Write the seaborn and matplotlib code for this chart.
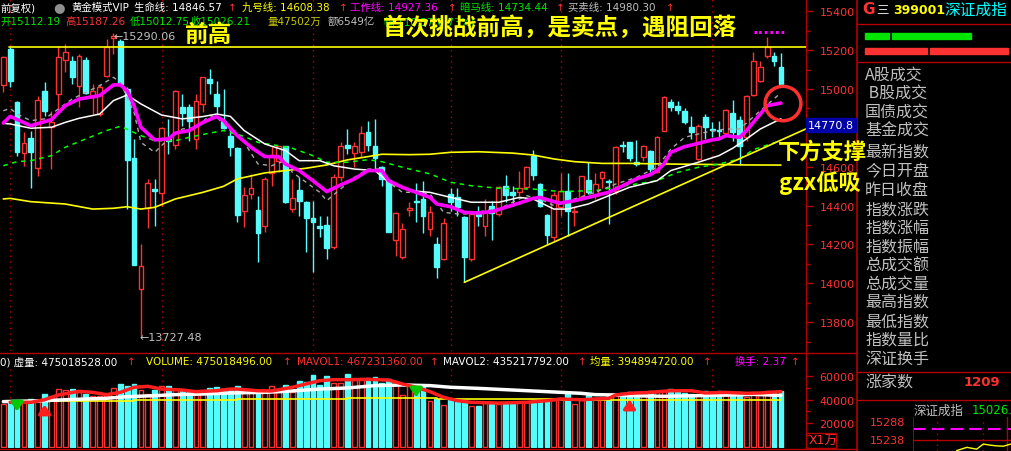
import matplotlib
matplotlib.use("Agg")
import numpy as np
import pandas as pd
import matplotlib.pyplot as plt
from matplotlib.lines import Line2D
from matplotlib.patches import Rectangle, Ellipse
import seaborn as sns

# ---- 深证成指 日K ----
opens = [15021, 15206, 14935, 14671, 14748, 14593, 14988, 14803, 14974, 15151,
         15142, 15014, 15149, 14966, 14871, 15069, 15261, 15249, 15000, 14645,
         13971, 14388, 14485, 14463, 14743, 14714, 14906, 14906, 14743, 14923,
         15051, 14974, 14837, 14756, 14696, 14370, 14458, 14377, 14297, 14566,
         14628, 14705, 14382, 14482, 14417, 14336, 14293, 14300, 14185, 14545,
         14712, 14669, 14674, 14777, 14705, 14597, 14532, 14225, 14137, 14377,
         14425, 14434, 14279, 14202, 14125, 14460, 14442, 14339, 14125, 14357,
         14293, 14396, 14357, 14502, 14472, 14468, 14494, 14657, 14511, 14351,
         14237, 14391, 14477, 14369, 14442, 14532, 14451, 14540, 14528, 14477,
         14712, 14725, 14626, 14648, 14683, 14571, 14782, 14931, 14911, 14889,
         14803, 14640, 14854, 14794, 14789, 14774, 14875, 14842, 14751, 14969,
         15043, 15172, 15172, 15112.19]
highs = [15172, 15214, 14940, 14777, 14786, 14966, 15034, 14889, 15223, 15232,
         15172, 15180, 15163, 15026, 15026, 15257, 15290.06, 15257, 15009, 14743,
         14202, 14537, 14537, 14803, 14846, 14997, 14974, 14923, 14974, 15060,
         15103, 15043, 15000, 14794, 14700, 14494, 14562, 14451, 14545, 14708,
         14708, 14708, 14537, 14545, 14422, 14425, 14348, 14348, 14563, 14726,
         14794, 14726, 14811, 14837, 14846, 14605, 14537, 14369, 14310, 14417,
         14516, 14528, 14400, 14237, 14334, 14489, 14489, 14348, 14374, 14400,
         14434, 14425, 14502, 14557, 14502, 14576, 14605, 14686, 14516, 14357,
         14468, 14568, 14568, 14391, 14554, 14623, 14568, 14580, 14537, 14708,
         14734, 14729, 14738, 14712, 14688, 14756, 14966, 14949, 14940, 14900,
         14863, 14820, 14871, 14828, 14837, 14897, 14943, 14863, 14969, 15189,
         15146, 15270, 15192, 15187.26]
lows = [14983, 15009, 14657, 14605, 14489, 14554, 14863, 14588, 14889, 15086,
        15026, 14906, 14974, 14871, 14863, 15060, 15180, 15017, 14382, 14096,
        13727.48, 14283, 14297, 14400, 14665, 14691, 14811, 14734, 14691, 14880,
        14974, 14871, 14794, 14657, 14314, 14288, 14434, 14108, 14266, 14502,
        14571, 14413, 14369, 14348, 14163, 14060, 14237, 14125, 14177, 14528,
        14665, 14597, 14648, 14683, 14588, 14502, 14262, 14142, 14125, 14348,
        14314, 14259, 14245, 14026, 14122, 14374, 14348, 14005, 14116, 14297,
        14245, 14225, 14348, 14417, 14400, 14451, 14485, 14533, 14391, 14202,
        14211, 14348, 14245, 14293, 14425, 14460, 14434, 14489, 14305, 14460,
        14674, 14631, 14602, 14631, 14571, 14568, 14782, 14889, 14871, 14820,
        14743, 14636, 14743, 14751, 14743, 14763, 14734, 14609, 14734, 14966,
        15034, 15158, 15120, 15012.75]
closes = [15163, 15043, 14677, 14720, 14674, 14943, 14889, 14828, 15163, 15189,
          15064, 15172, 14979, 14991, 15012, 15214, 15271, 15026, 14636, 14096,
          14087, 14514, 14477, 14798, 14734, 14991, 14876, 14837, 14940, 15060,
          15029, 14914, 14799, 14700, 14353, 14454, 14489, 14257, 14537, 14660,
          14705, 14420, 14437, 14425, 14334, 14317, 14283, 14182, 14545, 14705,
          14695, 14705, 14772, 14712, 14643, 14537, 14262, 14362, 14279, 14388,
          14417, 14348, 14365, 14082, 14309, 14417, 14391, 14137, 14357, 14348,
          14365, 14362, 14497, 14456, 14454, 14490, 14597, 14557, 14400, 14250,
          14454, 14477, 14374, 14374, 14554, 14468, 14509, 14575, 14520, 14703,
          14705, 14643, 14614, 14708, 14588, 14751, 14961, 14909, 14894, 14832,
          14780, 14811, 14803, 14791, 14782, 14894, 14777, 14708, 14966, 15146,
          15112, 15214, 15142, 15026.21]
# 成交量 (万)
volumes = [36300, 39100, 37700, 37700, 40500, 37700, 44700, 42800, 48900, 48100,
           48900, 46700, 44700, 42800, 42800, 42800, 49800, 53200, 51800, 53200,
           48100, 44700, 48400, 51200, 51200, 48400, 47500, 47500, 47000, 48100,
           49800, 50400, 48900, 48900, 51200, 48400, 47000, 47500, 48400, 51200,
           46100, 52300, 46700, 55400, 54600, 60800, 52300, 59600, 54000, 54000,
           61600, 57900, 57900, 57900, 58800, 54000, 57400, 53200, 43900, 53200,
           49500, 51800, 39100, 40500, 35400, 40500, 38300, 38300, 34300, 34300,
           38300, 36300, 36300, 37100, 37700, 38300, 38300, 39100, 39900, 40500,
           39900, 41100, 44700, 36300, 39900, 43900, 41100, 41100, 43300, 44700,
           45600, 46700, 46100, 43900, 47500, 46100, 47500, 48900, 48400, 45600,
           44700, 43900, 47500, 46100, 47500, 43900, 45600, 46100, 41900, 46700,
           45600, 47500, 45600, 47502]

# 指标线 (读图取点)
work_x = [0, 1, 4, 7, 9, 11, 14, 16, 17, 18, 19, 20, 22, 24, 25, 27, 29, 31, 32, 34,
          36, 38, 40, 41, 43, 45, 47, 49, 51, 53, 55, 56, 58, 60, 62, 63, 65, 67, 69, 71,
          73, 75, 77, 78, 80, 81, 83, 85, 87, 88, 90, 92, 94, 95, 96, 97, 99, 101, 103, 104,
          105, 107, 108, 110, 111, 113]
work_y = [14825, 14859, 14811, 14842, 14914, 14948, 14966, 15021, 15021, 14991,
          14914, 14803, 14738, 14743, 14773, 14786, 14828, 14858, 14837, 14760,
          14700, 14652, 14652, 14614, 14580, 14528, 14472, 14506, 14537, 14580,
          14580, 14528, 14494, 14468, 14442, 14408, 14394, 14365, 14362, 14369,
          14391, 14413, 14437, 14442, 14420, 14413, 14425, 14442, 14460, 14468,
          14502, 14537, 14559, 14580, 14614, 14674, 14703, 14720, 14738, 14743,
          14760, 14751, 14786, 14871, 14914, 14927.36]
life_x = [0, 1, 4, 7, 9, 11, 14, 16, 18, 20, 23, 26, 29, 31, 33, 35, 38, 41, 43, 46,
          48, 51, 54, 56, 59, 62, 65, 68, 72, 75, 77, 80, 82, 85, 88, 91, 95, 97, 101, 104,
          106, 108, 110, 113]
life_y = [14823, 14820, 14798, 14803, 14828, 14849, 14871, 14940, 14969, 14923,
          14866, 14846, 14858, 14871, 14859, 14786, 14717, 14683, 14631, 14631,
          14605, 14588, 14580, 14520, 14477, 14468, 14442, 14417, 14417, 14442,
          14434, 14382, 14382, 14408, 14451, 14494, 14528, 14580, 14623, 14657,
          14695, 14743, 14794, 14846.57]
trade_x = [0, 1, 2, 4, 6, 8, 10, 12, 14, 16, 17, 19, 20, 22, 24, 26, 28, 30, 31, 33,
           35, 37, 39, 41, 42, 44, 46, 47, 49, 51, 53, 55, 56, 58, 60, 62, 64, 66, 68, 70,
           72, 74, 76, 78, 80, 81, 83, 86, 89, 92, 95, 97, 99, 102, 105, 107, 110, 113]
trade_y = [14888, 14900, 14871, 14837, 14846, 14897, 14948, 14983, 15017, 15060,
           15034, 14880, 14725, 14674, 14743, 14794, 14803, 14863, 14854, 14786,
           14725, 14614, 14605, 14631, 14571, 14520, 14468, 14425, 14485, 14545,
           14588, 14588, 14520, 14468, 14468, 14460, 14365, 14357, 14357, 14374,
           14382, 14417, 14451, 14434, 14400, 14408, 14434, 14468, 14511, 14545,
           14597, 14691, 14751, 14777, 14794, 14794, 14888, 14980.30]
dark_x = [0, 2, 4, 7, 9, 12, 15, 17, 20, 22, 25, 27, 30, 32, 35, 37, 40, 42, 45, 47,
          50, 53, 55, 58, 62, 65, 68, 72, 77, 81, 86, 89, 92, 95, 98, 101, 104, 107, 109, 113]
dark_y = [14605, 14626, 14631, 14657, 14700, 14743, 14786, 14808, 14760, 14734,
          14734, 14751, 14773, 14786, 14756, 14725, 14708, 14695, 14657, 14623,
          14623, 14636, 14626, 14597, 14563, 14520, 14502, 14489, 14485, 14472,
          14477, 14494, 14511, 14528, 14571, 14597, 14614, 14640, 14688, 14734.44]
nine_x = [0, 1, 4, 9, 13, 16, 18, 20, 22, 25, 29, 32, 34, 38, 41, 44, 47, 50, 53, 55,
          59, 62, 65, 69, 74, 77, 80, 83, 87, 91, 96, 104, 108, 113]
nine_y = [14434, 14437, 14420, 14408, 14382, 14386, 14394, 14382, 14391, 14434,
          14468, 14499, 14537, 14568, 14580, 14592, 14609, 14635, 14652, 14664,
          14662, 14664, 14674, 14677, 14670, 14660, 14640, 14626, 14617, 14617,
          14614, 14611, 14609, 14608.38]

mavol1_x = [1, 4, 6, 8, 11, 13, 15, 17, 19, 21, 23, 26, 28, 31, 33, 34, 37, 39, 42, 44,
            46, 48, 51, 53, 56, 58, 60, 62, 64, 66, 68, 72, 76, 79, 81, 84, 88, 89, 91, 94,
            97, 100, 102, 105, 108, 110, 113]
mavol1_y = [37700, 37700, 39900, 43900, 47000, 46100, 44200, 46100, 50400, 51200,
            48900, 48100, 46700, 47500, 48900, 48900, 47500, 47300, 50400, 53200,
            56000, 56800, 56800, 57100, 56500, 53200, 50400, 46700, 41900, 39100,
            37700, 37100, 37700, 39100, 40500, 39900, 41100, 43900, 45300, 46100,
            47500, 47500, 45600, 46100, 45300, 45600, 46723]
mavol2_x = [0, 6, 9, 12, 15, 18, 22, 25, 29, 33, 38, 42, 46, 50, 54, 58, 62, 65, 69, 74,
            79, 84, 86, 89, 91, 96, 101, 106, 109, 113]
mavol2_y = [38300, 39100, 39900, 40500, 41100, 42500, 43300, 44200, 44700, 45600,
            46100, 47300, 48900, 49800, 51800, 52300, 51800, 50400, 49500, 48100,
            46700, 45300, 44200, 43900, 43300, 42800, 43300, 43900, 44400, 43522]
avgvol_x = [0, 19, 34, 50, 63, 81, 113]
avgvol_y = [39100, 39660, 40500, 41070, 40500, 39489, 39489]

month_idx = [1, 23, 45, 65, 81, 103]
resist_x, resist_y = [0.9, 116.6], [15214, 15214]
support_x, support_y = [67, 116.6], [14005, 14794]

# 分时小图
mini_t = [112, 138, 163, 180, 197, 214, 231, 250]
mini_p = [15209, 15218, 15213, 15227, 15224, 15222, 15221, 15227]

W, H = 1011, 452
RED = '#FF3232'
AXRED = '#B40000'
CYAN = '#54FCFC'
YEL = '#FFFF00'
MAG = '#FF00FF'
GRN = '#00E600'
GRAY = '#C0C0C0'
CJK = ['Noto Sans CJK SC', 'DejaVu Sans']
HS = 7.5  # 标题文字大小

sns.set_style("dark", {"axes.facecolor": "black", "figure.facecolor": "black"})
plt.rcParams['font.family'] = ['DejaVu Sans', 'Noto Sans CJK SC']
plt.rcParams['axes.unicode_minus'] = False

fig = plt.figure(figsize=(W / 100, H / 100), dpi=100, facecolor='black')


def fx(x):
    return x / W


def fy(y):
    return 1 - y / H


def txt(x, y, s, color, size=HS, **kw):
    fig.text(fx(x), fy(y), s, color=color, fontsize=size, va='center', **kw)


def hl(y, x0, x1, color=AXRED, lw=1, **kw):
    fig.add_artist(Line2D([fx(x0), fx(x1)], [fy(y), fy(y)], color=color, lw=lw, **kw))


def vl(x, y0, y1, color=AXRED, lw=1, **kw):
    fig.add_artist(Line2D([fx(x), fx(x)], [fy(y0), fy(y1)], color=color, lw=lw, **kw))


df = pd.DataFrame(dict(o=opens, h=highs, l=lows, c=closes, v=volumes))
df['i'] = np.arange(len(df))
up = (df.c >= df.o).values
edge = np.where(up, RED, CYAN)
face = np.where(up, 'black', CYAN)

# ---------- 主图 ----------
ax = fig.add_axes([0, fy(352), fx(805.7), fy(0) - fy(352)])
for i in month_idx:
    ax.axvline(i, color=AXRED, lw=1, ls=(0, (1, 3)), zorder=1)
ax.vlines(df.i, df.l, df.h, colors=edge, lw=1, zorder=2)
ax.bar(df.i, (df.c - df.o).abs().clip(lower=4), bottom=df[['o', 'c']].min(axis=1),
       width=0.7, color=face, edgecolor=edge, lw=1, zorder=3)

for xs, ys, col, lw, ls, z in [
        (nine_x, nine_y, YEL, 1.2, '-', 4),
        (dark_x, dark_y, '#00FF00', 1.1, (0, (3, 3)), 4),
        (trade_x, trade_y, '#A8A8A8', 1.0, (0, (3, 3)), 4),
        (life_x, life_y, 'white', 1.1, '-', 4),
        (work_x, work_y, MAG, 2.6, '-', 5)]:
    sns.lineplot(x=xs, y=ys, ax=ax, color=col, linewidth=lw, linestyle=ls,
                 zorder=z, estimator=None, sort=False)

ax.plot(resist_x, resist_y, color=YEL, lw=1.2, zorder=5)
ax.plot(support_x, support_y, color=YEL, lw=1.2, zorder=5)
ax.add_patch(Ellipse((113.3, 14925), 5.2, 177, fill=False, edgecolor='#FF3030', lw=2.5, zorder=6))

ax.set_xlim(-0.48, 116.6)
ax.set_ylim(13651.6, 15463)
ax.set_xlabel('')
ax.set_ylabel('')
ax.set_xticks([])
ax.grid(False)
ax.yaxis.tick_right()
ax.set_yticks(range(13800, 15401, 200))
ax.set_yticks(range(13700, 15451, 100), minor=True)
ax.tick_params(axis='y', which='major', colors=AXRED, labelcolor=RED, length=5,
               width=1, pad=5, labelsize=8, direction='out')
ax.tick_params(axis='y', which='minor', colors=AXRED, length=3, width=1, direction='out')
for s in ['top', 'left', 'bottom']:
    ax.spines[s].set_visible(False)
ax.spines['right'].set_color(AXRED)

# ---------- 成交量 ----------
axv = fig.add_axes([0, fy(449), fx(805.7), fy(370) - fy(449)])
for i in month_idx:
    axv.axvline(i, color=AXRED, lw=1, ls=(0, (1, 3)), zorder=1)
axv.bar(df.i, df.v, width=0.7, color=face, edgecolor=edge, lw=1, zorder=2)
sns.lineplot(x=avgvol_x, y=avgvol_y, ax=axv, color=YEL, linewidth=1.2,
             drawstyle='steps-post', zorder=3, estimator=None, sort=False)
sns.lineplot(x=mavol2_x, y=mavol2_y, ax=axv, color='white', linewidth=2.5,
             zorder=4, estimator=None, sort=False)
sns.lineplot(x=mavol1_x, y=mavol1_y, ax=axv, color='#FF1E1E', linewidth=2.5,
             zorder=5, estimator=None, sort=False)
for i, v0, v1, col in [(2, 38000, 27800, '#00C800'), (60, 48900, 39700, '#00C800'),
                       (6, 27800, 38000, '#FF1E1E'), (91, 32900, 42200, '#FF1E1E')]:
    axv.annotate('', xy=(i, v1), xytext=(i, v0),
                 arrowprops=dict(arrowstyle='-|>,head_width=0.35,head_length=0.5',
                                 color=col, lw=2.5), zorder=6)
axv.set_xlim(-0.48, 116.6)
axv.set_ylim(-844, 65823)
axv.set_xlabel('')
axv.set_ylabel('')
axv.set_xticks([])
axv.grid(False)
axv.yaxis.tick_right()
axv.set_yticks([20000, 40000, 60000])
axv.set_yticks(range(10000, 60001, 10000), minor=True)
axv.tick_params(axis='y', which='major', colors=AXRED, labelcolor=RED, length=5,
                width=1, pad=5, labelsize=8, direction='out')
axv.tick_params(axis='y', which='minor', colors=AXRED, length=3, width=1, direction='out')
for s in ['top', 'left', 'bottom']:
    axv.spines[s].set_visible(False)
axv.spines['right'].set_color(AXRED)

# ---------- 分隔线 ----------
hl(354, 0, 856.7)
hl(449.5, 0, 856.7)
vl(805.7, 352, 370)
vl(856.7, 0, 452, lw=1.2)
for y in [25, 63, 373, 401]:
    hl(y, 856.7, 1011)

# ---------- 顶部指标文字 ----------
txt(0, 8, '前复权)', 'white')
txt(53, 8, '●', '#909090', size=9.5)
txt(71, 8, '黄金模式VIP', 'white')
for x, s, c in [(134, '生命线: 14846.57', 'white'), (242, '九号线: 14608.38', YEL),
                (350, '工作线: 14927.36', MAG), (460, '暗马线: 14734.44', GRN),
                (568, '买卖线: 14980.30', GRAY)]:
    txt(x, 8, s, c)
for x in [228, 339, 448, 556, 666]:
    txt(x, 8, '↑', RED)
for x, s, c in [(0, '开15112.19', GRN), (65, '高15187.26', RED), (130, '低15012.75', GRN),
                (190, '收15026.21', GRN), (267, '量47502万', '#C8C800'),
                (328, '额6549亿', GRAY), (383, '幅-110.57(0.73%)', GRN)]:
    txt(x, 22, s, c)

# 成交量标题
for x, s, c in [(0, '0) 虚量: 475018528.00', 'white'), (146, 'VOLUME: 475018496.00', YEL),
                (297, 'MAVOL1: 467231360.00', RED), (443, 'MAVOL2: 435217792.00', 'white'),
                (590, '均量: 394894720.00', YEL), (735, '换手: 2.37', MAG)]:
    txt(x, 362, s, c)
for x in [127, 283, 430, 578, 703, 791]:
    txt(x, 362, '↑', RED)

# 高低点标注
txt(114, 37, '←15290.06', GRAY, size=8)
txt(140, 338, '←13727.48', GRAY, size=8)

# 手写注释
txt(185, 35, '前高', YEL, size=17, family=CJK, fontweight='bold', zorder=6)
txt(383, 28, '首次挑战前高，是卖点，遇阻回落', YEL, size=17, family=CJK,
    fontweight='bold', zorder=6)
txt(752, 30, '......', MAG, size=11, fontweight='bold')
txt(778, 152, '下方支撑', YEL, size=16, family=CJK, fontweight='bold', zorder=6)
txt(779, 183, 'gzx低吸', YEL, size=16, family=CJK, fontweight='bold', zorder=6)

# 光标价格框
fig.add_artist(Rectangle((fx(806), fy(133)), fx(50), 14 / H, color='#0000A8', zorder=4))
txt(808, 126, '14770.8', 'white', size=8, zorder=5)
fig.add_artist(Rectangle((fx(806), fy(449)), fx(30), 15 / H, fill=False,
                         edgecolor=AXRED, lw=1, zorder=4))
txt(809, 441, 'X1万', RED, size=9)

# ---------- 右侧面板 ----------
txt(862, 10, 'G', RED, size=11, fontweight='bold')
txt(876, 10, '三', '#E0E0E0', size=9, family=CJK)
txt(893, 10, '399001', YEL, size=9, fontweight='bold')
txt(944, 10, '深证成指', '#00FFFF', size=11.3, family=CJK)
for x0, x1 in [(865, 889), (892, 971)]:
    fig.add_artist(Rectangle((fx(x0), fy(40)), fx(x1 - x0), 6 / H, color='#00E600'))
for x0, x1 in [(865, 927), (930, 1008)]:
    fig.add_artist(Rectangle((fx(x0), fy(55)), fx(x1 - x0), 6 / H, color='#FF3232'))
labels = ['A股成交', ' B股成交', '国债成交', '基金成交', '最新指数', '今日开盘', '昨日收盘',
          '指数涨跌', '指数涨幅', '指数振幅', '总成交额', '总成交量', '最高指数', '最低指数',
          '指数量比', '深证换手']
ys = [75, 93, 112, 131, 153, 172, 191, 210, 228, 247, 266, 284, 303, 322, 340, 359]
for s, y in zip(labels, ys):
    txt(865, y, s, GRAY, size=11.5, family=CJK, zorder=2)
txt(865, 383, '涨家数', GRAY, size=11.5, family=CJK)
txt(1000, 383, '1209', RED, size=9.5, fontweight='bold', ha='right')
txt(914, 411, '深证成指', GRAY, size=9, family=CJK)
txt(972, 411, '15026.2', '#00E600', size=8.5)
txt(905, 423, '15288', RED, size=8, ha='right')
txt(905, 441, '15238', RED, size=8, ha='right')

axm = fig.add_axes([fx(912.7), 0, fx(1011 - 912.7), fy(418)])
axm.set_xlim(0, 250.6)
axm.set_ylim(15208, 15300.8)
axm.axhline(15238, color=AXRED, lw=1)
axm.axhline(15268, color=MAG, lw=1.5, ls=(0, (6, 3)))
axm.axvline(0.5, color=AXRED, lw=1.2)
axm.axvline(240, color=AXRED, lw=1)
for t in [62, 180]:
    axm.axvline(t, color=AXRED, lw=1, ls=(0, (1, 3)))
sns.lineplot(x=mini_t, y=mini_p, ax=axm, color=YEL, linewidth=1, estimator=None, sort=False)
axm.set_axis_off()

fig.savefig('out.png', dpi=100, facecolor='black')
